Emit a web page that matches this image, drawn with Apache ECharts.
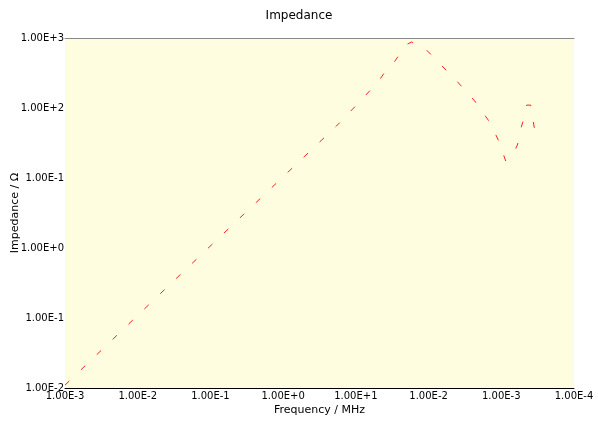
<!DOCTYPE html>
<html>
<head>
<meta charset="utf-8">
<script src="https://cdn.jsdelivr.net/npm/echarts@6/dist/echarts.min.js"></script>
<style>
html,body{margin:0;padding:0;background:#fff;}
#chart{width:598px;height:421px;}
</style>
</head>
<body>
<div id="chart"></div>
<script>
// frequency in MHz, impedance in ohm
var freq = [0.001, 0.0238, 5.41, 11.2, 15.9, 21.1, 24.0, 33.0, 41.1, 46.7, 51.4, 58.3,
	85.3, 113, 251, 356, 431, 537, 692, 785, 920, 1151, 1306, 1531, 1683, 1849,
	2037, 2239, 2541, 2710, 2884, 3076];
var imp = [0.011, 0.259, 55.3, 122, 181, 251, 306, 440, 611, 743, 820, 877,
	743, 553, 235, 158, 126, 90.6, 63.1, 48.5, 33.8, 17.5, 20.0, 24.3, 30.6, 50.1,
	69.7, 110, 110, 69.7, 48.5, 34.9];
// tick labels exactly as printed on the original
var xTicks = ['1.00E-3','1.00E-2','1.00E-1','1.00E+0','1.00E+1','1.00E-2','1.00E-3','1.00E-4'];
var yTicks = ['1.00E-2','1.00E-1','1.00E+0','1.00E-1','1.00E+2','1.00E+3'];

var pts = freq.map(function(f,i){ return [f, imp[i]]; });
var font = 'DejaVu Sans';

var myChart = echarts.init(document.getElementById('chart'));
var chartOption = {
	animation: false,
	backgroundColor: '#fff',
	title: {
		text: 'Impedance',
		left: 'center',
		top: 5,
		textStyle: {fontFamily: font, fontSize: 12, fontWeight: 'normal', color: '#000'}
	},
	grid: {
		left: 65, right: 24, top: 38, bottom: 33,
		outerBoundsMode: 'none', containLabel: false,
		show: true, backgroundColor: '#fffde0', borderWidth: 0
	},
	xAxis: [{
		type: 'log', logBase: 10, min: 0.001, max: 10000,
		name: 'Frequency / MHz', nameLocation: 'middle', nameGap: 17,
		nameMoveOverlap: false,
		nameTextStyle: {fontFamily: font, fontSize: 11, color: '#000'},
		axisLine: {lineStyle: {color: '#000', width: 1}},
		axisTick: {show: false},
		splitLine: {show: false},
		axisLabel: {
			fontFamily: font, fontSize: 10, color: '#000', margin: 3,
			formatter: function(v){ return xTicks[Math.round(Math.log10(v)) + 3]; }
		}
	}, {
		type: 'log', logBase: 10, min: 0.001, max: 10000, position: 'top',
		axisLine: {lineStyle: {color: '#888', width: 1}},
		axisTick: {show: false}, axisLabel: {show: false}, splitLine: {show: false}
	}],
	yAxis: {
		type: 'log', logBase: 10, min: 0.01, max: 1000,
		name: 'Impedance / Ω', nameLocation: 'middle', nameGap: 44,
		nameMoveOverlap: false,
		nameTextStyle: {fontFamily: font, fontSize: 11, color: '#000'},
		axisLine: {show: false},
		axisTick: {show: false},
		splitLine: {show: false},
		axisLabel: {
			fontFamily: font, fontSize: 10, color: '#000', margin: 1,
			formatter: function(v){ return yTicks[Math.round(Math.log10(v)) + 2]; }
		}
	},
	series: [{
		type: 'line',
		data: pts,
		showSymbol: false,
		smooth: false,
		lineStyle: {color: '#ff2020', width: 1, type: [6, 16]}
	}]
};
myChart.setOption(chartOption);
</script>
</body>
</html>
